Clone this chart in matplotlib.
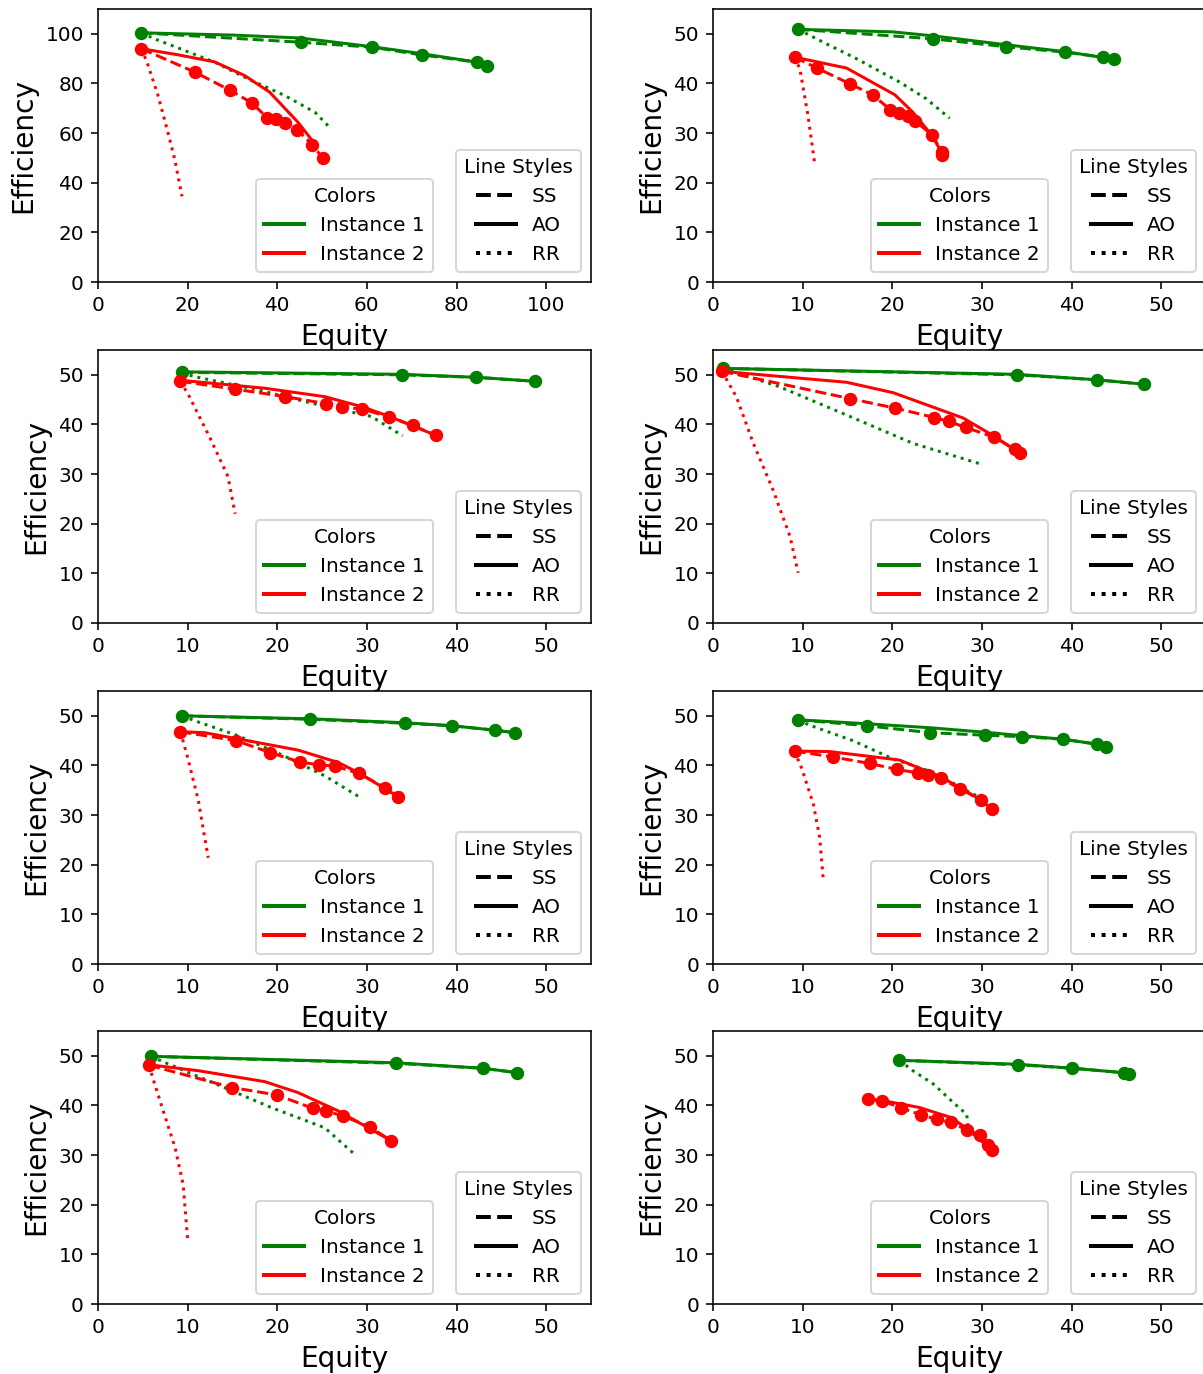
import matplotlib
matplotlib.use("Agg")
import matplotlib.pyplot as plt
from matplotlib.lines import Line2D

# Axis limits for each of the eight panels (row-major order)
axis_max = [110, 55, 55, 55, 55, 55, 55, 55]

# Instance 1 (green): SS scheme
ss1_x = [[9.7, 45.2, 61.2, 72.2, 84.5, 86.9],
         [9.5, 24.5, 32.7, 39.3, 43.5, 44.7],
         [9.4, 33.9, 42.2, 48.7],
         [1.1, 33.9, 42.8, 48.1],
         [9.4, 23.7, 34.3, 39.5, 44.3, 46.5],
         [9.5, 17.2, 24.2, 30.3, 34.5, 39.0, 42.8, 43.8],
         [5.9, 33.2, 42.9, 46.8],
         [20.8, 34.0, 40.1, 45.8, 46.4]]
ss1_y = [[100.4, 96.6, 94.6, 91.5, 88.6, 87.0],
         [50.9, 49.0, 47.4, 46.3, 45.3, 45.0],
         [50.5, 50.0, 49.5, 48.7],
         [51.3, 50.0, 49.0, 48.1],
         [50.0, 49.3, 48.5, 48.0, 47.1, 46.6],
         [49.2, 48.0, 46.6, 46.1, 45.8, 45.3, 44.3, 43.8],
         [49.9, 48.5, 47.5, 46.6],
         [49.1, 48.2, 47.5, 46.6, 46.3]]

# Instance 1 (green): AO scheme
ao1_x = [[9.7, 30.0, 45.2, 61.2, 72.2, 84.5, 86.9],
         [9.5, 20.0, 24.5, 32.7, 39.3, 44.7],
         [9.4, 33.9, 42.2, 48.7],
         [1.1, 33.9, 42.8, 48.1],
         [9.4, 23.7, 34.3, 39.5, 44.3, 46.5],
         [9.5, 17.2, 24.2, 30.3, 34.5, 39.0, 42.8, 43.8],
         [5.9, 33.2, 42.9, 46.8],
         [20.8, 34.0, 40.1, 45.8, 46.4]]
ao1_y = [[100.4, 99.5, 98.3, 94.8, 92.0, 88.6, 87.2],
         [50.9, 50.4, 49.6, 47.8, 46.4, 44.9],
         [50.6, 50.1, 49.5, 48.7],
         [51.3, 50.1, 49.0, 48.1],
         [50.0, 49.4, 48.6, 48.0, 47.1, 46.6],
         [49.2, 48.4, 47.6, 46.7, 46.0, 45.3, 44.3, 43.8],
         [49.9, 48.6, 47.5, 46.6],
         [49.1, 48.3, 47.5, 46.6, 46.3]]

# Instance 1 (green): RR scheme
rr1_x = [[9.7, 12.6, 26.0, 33.5, 41.7, 48.4, 51.8],
         [9.5, 12.3, 16.0, 20.8, 23.8, 26.4],
         [9.4, 10.6, 17.5, 23.8, 30.5, 34.0],
         [1.1, 7.4, 14.9, 22.3, 30.1],
         [9.4, 10.8, 15.6, 20.8, 25.3, 29.3],
         [9.5, 10.8, 15.6, 20.1, 24.6, 28.3, 29.5],
         [5.9, 7.4, 14.1, 19.3, 25.3, 28.6],
         [20.8, 22.3, 24.6, 26.8, 28.3, 28.6]]
rr1_y = [[100.4, 98.0, 88.6, 81.8, 75.1, 68.4, 62.1],
         [50.9, 48.3, 45.0, 40.3, 36.9, 33.0],
         [50.5, 49.7, 47.1, 44.3, 41.6, 37.7],
         [51.3, 47.6, 41.9, 36.2, 31.9],
         [50.0, 49.0, 46.0, 41.9, 37.9, 33.5],
         [49.2, 48.1, 45.0, 41.3, 38.6, 34.9, 33.8],
         [49.9, 48.7, 43.6, 39.6, 35.5, 30.2],
         [49.1, 47.0, 44.3, 40.6, 38.2, 33.5]]

# Instance 2 (red): SS scheme
ss2_x = [[9.7, 21.7, 29.5, 34.3, 37.8, 39.7, 41.7, 44.4, 47.8, 50.1],
         [9.1, 11.6, 15.3, 17.8, 19.8, 20.7, 21.8, 22.5, 24.4, 25.6, 25.6],
         [9.2, 15.3, 20.9, 25.4, 27.2, 29.5, 32.5, 35.1, 37.7],
         [1.0, 15.3, 20.3, 24.7, 26.3, 28.2, 31.4, 33.7, 34.2],
         [9.2, 15.4, 19.2, 22.5, 24.7, 26.4, 29.1, 32.0, 33.5],
         [9.1, 13.4, 17.5, 20.5, 22.9, 24.0, 25.4, 27.6, 29.9, 31.1],
         [5.7, 15.0, 20.0, 24.0, 25.4, 27.3, 30.3, 32.7],
         [17.3, 18.9, 21.0, 23.2, 25.0, 26.5, 28.3, 29.8, 30.7, 31.1]]
ss2_y = [[94.0, 84.5, 77.2, 72.2, 66.1, 65.5, 64.1, 61.4, 55.4, 50.0],
         [45.3, 43.1, 39.9, 37.7, 34.7, 34.0, 33.5, 32.5, 29.7, 26.1, 25.6],
         [48.7, 47.1, 45.6, 44.2, 43.5, 43.1, 41.5, 39.8, 37.8],
         [50.7, 45.2, 43.3, 41.4, 40.6, 39.4, 37.4, 35.0, 34.2],
         [46.8, 45.0, 42.6, 40.7, 40.1, 39.9, 38.4, 35.5, 33.7],
         [42.9, 41.7, 40.4, 39.2, 38.5, 38.0, 37.4, 35.3, 33.0, 31.2],
         [48.1, 43.6, 42.1, 39.4, 38.9, 37.9, 35.7, 32.9],
         [41.3, 40.9, 39.5, 38.1, 37.2, 36.6, 35.1, 34.1, 32.0, 31.0]]

# Instance 2 (red): AO scheme
ao2_x = [[9.7, 18.0, 26.0, 32.7, 38.3, 44.6, 47.8],
         [9.1, 14.9, 20.3, 22.3, 24.4, 25.6],
         [9.2, 18.6, 25.3, 29.4, 32.4, 37.7],
         [1.0, 14.9, 20.1, 27.9, 31.4, 34.2],
         [9.2, 11.9, 22.3, 26.8, 29.1, 33.5],
         [9.1, 13.0, 20.8, 25.3, 27.6, 29.9, 31.1],
         [5.7, 11.2, 18.6, 22.3, 26.8, 32.7],
         [17.3, 18.9, 23.0, 26.5, 28.3, 31.1]]
ao2_y = [[94.0, 91.5, 88.7, 83.2, 76.5, 64.4, 57.0],
         [45.3, 43.1, 37.7, 34.2, 29.6, 25.8],
         [48.9, 47.3, 45.6, 43.6, 41.7, 37.8],
         [50.7, 48.5, 46.4, 41.3, 37.6, 34.2],
         [46.8, 46.6, 43.1, 40.6, 38.5, 33.7],
         [42.9, 42.8, 41.1, 37.8, 35.5, 33.0, 31.2],
         [48.2, 47.0, 44.8, 42.6, 38.9, 32.9],
         [41.3, 41.0, 39.6, 37.6, 35.4, 31.0]]

# Instance 2 (red): RR scheme
rr2_x = [[9.7, 11.2, 13.4, 15.6, 17.1, 18.75],
         [9.1, 9.7, 10.6, 11.35],
         [9.2, 10.2, 12.6, 14.5, 15.3],
         [1.0, 2.6, 4.5, 6.7, 8.6, 9.5],
         [9.2, 10.0, 11.2, 11.9, 12.3],
         [9.1, 9.9, 11.2, 11.9, 12.3],
         [5.7, 6.1, 7.4, 8.6, 9.5, 10.0],
         []]
rr2_y = [[94.0, 87.2, 75.1, 60.3, 49.6, 34.5],
         [45.3, 42.9, 33.5, 23.8],
         [48.7, 45.6, 36.9, 29.5, 22.0],
         [50.7, 45.6, 36.2, 26.8, 17.4, 10.1],
         [46.8, 41.6, 32.9, 25.5, 21.4],
         [42.9, 39.4, 32.2, 25.5, 17.1],
         [48.1, 45.6, 38.2, 31.5, 24.1, 13.0],
         []]

instance_labels = ["Instance 1", "Instance 2"]
instance_colors = ["green", "red"]
style_labels = ["SS", "AO", "RR"]
style_dashes = ["--", "-", ":"]

# Figure is laid out at 100 dpi with all default sizes scaled up by S
S = 1.44
plt.rcParams.update({
    "axes.linewidth": 0.8 * S,
    "xtick.major.size": 3.5 * S,
    "ytick.major.size": 3.5 * S,
    "xtick.major.width": 0.8 * S,
    "ytick.major.width": 0.8 * S,
    "xtick.major.pad": 3.5 * S,
    "ytick.major.pad": 3.5 * S,
    "xtick.labelsize": 10 * S,
    "ytick.labelsize": 10 * S,
    "axes.labelpad": 4.0 * S,
    "legend.fontsize": 10 * S,
    "legend.title_fontsize": 10 * S,
    "patch.linewidth": 1.0 * S,
})

W, H = 1203, 1374
fig = plt.figure(figsize=(W / 100, H / 100), dpi=100)

col_left = [98, 713]
row_top = [9, 350, 691, 1031]
ax_w, ax_h = 493, 273

LW = 1.5 * S
MS = 6.0 * S
for i in range(8):
    r, c = divmod(i, 2)
    left = col_left[c] / W
    bottom = 1 - (row_top[r] + ax_h) / H
    ax = fig.add_axes([left, bottom, ax_w / W, ax_h / H])

    ax.plot(ss1_x[i], ss1_y[i], "--", color="green", lw=LW, marker="o", ms=MS)
    ax.plot(ao1_x[i], ao1_y[i], "-", color="green", lw=LW)
    ax.plot(rr1_x[i], rr1_y[i], ":", color="green", lw=LW)
    ax.plot(ss2_x[i], ss2_y[i], "--", color="red", lw=LW, marker="o", ms=MS)
    ax.plot(ao2_x[i], ao2_y[i], "-", color="red", lw=LW)
    ax.plot(rr2_x[i], rr2_y[i], ":", color="red", lw=LW)

    ax.set_xlim(0, axis_max[i])
    ax.set_ylim(0, axis_max[i])
    ax.set_xlabel("Equity", fontsize=14 * S)
    ax.set_ylabel("Efficiency", fontsize=14 * S)

    color_handles = [Line2D([], [], color=col, lw=2 * S) for col in instance_colors]
    leg1 = ax.legend(color_handles, instance_labels, title="Colors",
                     loc="lower right", bbox_to_anchor=(0.7, 0))
    ax.add_artist(leg1)
    style_handles = [Line2D([], [], color="black", ls=s, lw=2 * S) for s in style_dashes]
    ax.legend(style_handles, style_labels, title="Line Styles", loc="lower right")

fig.savefig("out.png", dpi=100)
